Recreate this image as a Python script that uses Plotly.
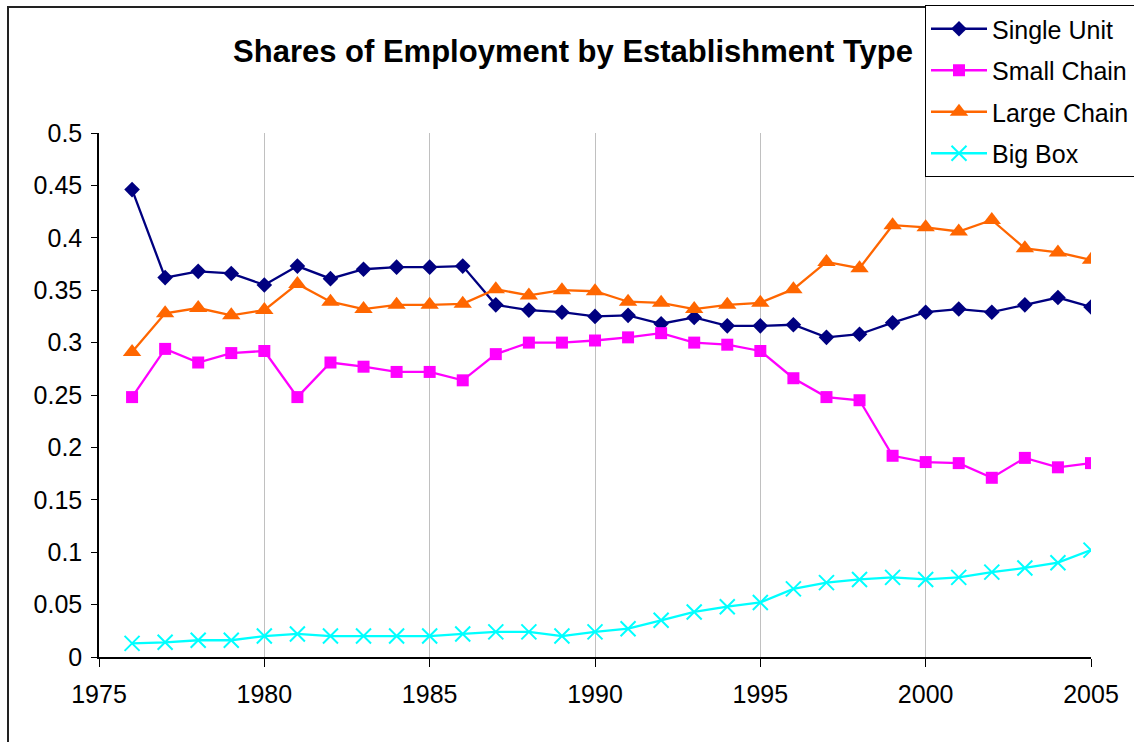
import plotly.graph_objects as go

years = list(range(1976, 2006))

single_unit = [0.446, 0.362, 0.368, 0.366, 0.355, 0.373, 0.361, 0.370, 0.372, 0.372, 0.373,
               0.336, 0.331, 0.329, 0.325, 0.326, 0.318, 0.324, 0.316, 0.316, 0.317,
               0.305, 0.308, 0.319, 0.329, 0.332, 0.329, 0.336, 0.343, 0.334]
small_chain = [0.248, 0.294, 0.281, 0.290, 0.292, 0.248, 0.281, 0.277, 0.272, 0.272, 0.264,
               0.289, 0.300, 0.300, 0.302, 0.305, 0.309, 0.300, 0.298, 0.292, 0.266,
               0.248, 0.245, 0.192, 0.186, 0.185, 0.171, 0.190, 0.181, 0.185]
large_chain = [0.291, 0.328, 0.333, 0.326, 0.331, 0.356, 0.339, 0.332, 0.336, 0.336, 0.337,
               0.351, 0.345, 0.350, 0.349, 0.339, 0.338, 0.332, 0.336, 0.338, 0.351,
               0.377, 0.371, 0.412, 0.410, 0.406, 0.417, 0.390, 0.386, 0.379]
big_box = [0.013, 0.014, 0.016, 0.016, 0.020, 0.022, 0.020, 0.020, 0.020, 0.020, 0.022,
           0.024, 0.024, 0.020, 0.024, 0.027, 0.035, 0.043, 0.048, 0.052, 0.065,
           0.071, 0.074, 0.076, 0.074, 0.076, 0.081, 0.085, 0.090, 0.102]

series = [
    ("Single Unit", single_unit, "#000080", "diamond", 12, None),
    ("Small Chain", small_chain, "#FF00FF", "square", 12, None),
    ("Large Chain", large_chain, "#FF6600", "triangle-up", 16, None),
    ("Big Box", big_box, "#00FFFF", "x-thin", 15, 2),
]

FONT = "Arial, Liberation Sans, sans-serif"

fig = go.Figure()
for i, (name, vals, color, sym, size, mlw) in enumerate(series):
    marker = dict(symbol=sym, size=size, color=color)
    if mlw:
        marker["line"] = dict(color=color, width=mlw)
    fig.add_trace(go.Scatter(
        x=years, y=vals, name=name, mode="lines+markers",
        line=dict(color=color, width=2.3),
        marker=marker, legendgroup=f"g{i}",
    ))

W, H = 1134, 742
L, R, T, B = 99, 1134 - 1091, 133, 742 - 657
pw, ph = W - L - R, H - T - B

def px(xp):
    return (xp - L) / pw

def py(yp):
    return (H - B - yp) / ph

fig.update_layout(
    width=W, height=H,
    margin=dict(l=L, r=R, t=T, b=B, pad=0, autoexpand=False),
    paper_bgcolor="white", plot_bgcolor="white",
    font=dict(family=FONT, size=25, color="black"),
    title=dict(text="<b>Shares of Employment by Establishment Type</b>",
               x=573 / W, xref="container", xanchor="center",
               y=1 - 51 / H, yref="container", yanchor="middle",
               font=dict(size=31, family=FONT, color="black")),
    showlegend=True,
    legend=dict(x=925 / W, xref="container", xanchor="left",
                y=1 - 5 / H, yref="container", yanchor="top",
                bgcolor="white", bordercolor="black", borderwidth=1,
                font=dict(size=25, family=FONT, color="black"),
                tracegroupgap=6, itemwidth=56),
    xaxis=dict(range=[1975, 2005], dtick=5, tick0=1975, showgrid=True,
               gridcolor="#c0c0c0", gridwidth=1, showline=True,
               linecolor="black", linewidth=1.5, ticks="outside",
               ticklen=8, tickcolor="black", zeroline=False,
               ticklabelstandoff=6, tickfont=dict(size=25)),
    yaxis=dict(range=[0, 0.5], dtick=0.05, tick0=0, showgrid=False,
               showline=True, linecolor="black", linewidth=1.5,
               ticks="outside", ticklen=6, tickcolor="black",
               zeroline=False, tickformat="~g", ticklabelstandoff=4,
               tickfont=dict(size=25)),
    shapes=[dict(type="rect", xref="paper", yref="paper",
                 x0=px(8), x1=px(1150), y0=py(760), y1=py(7),
                 line=dict(color="#222222", width=2), layer="below")],
)

fig.write_html("out.html", config={"displayModeBar": False},
               post_script="document.body.style.margin='0';document.body.style.overflow='hidden';")
